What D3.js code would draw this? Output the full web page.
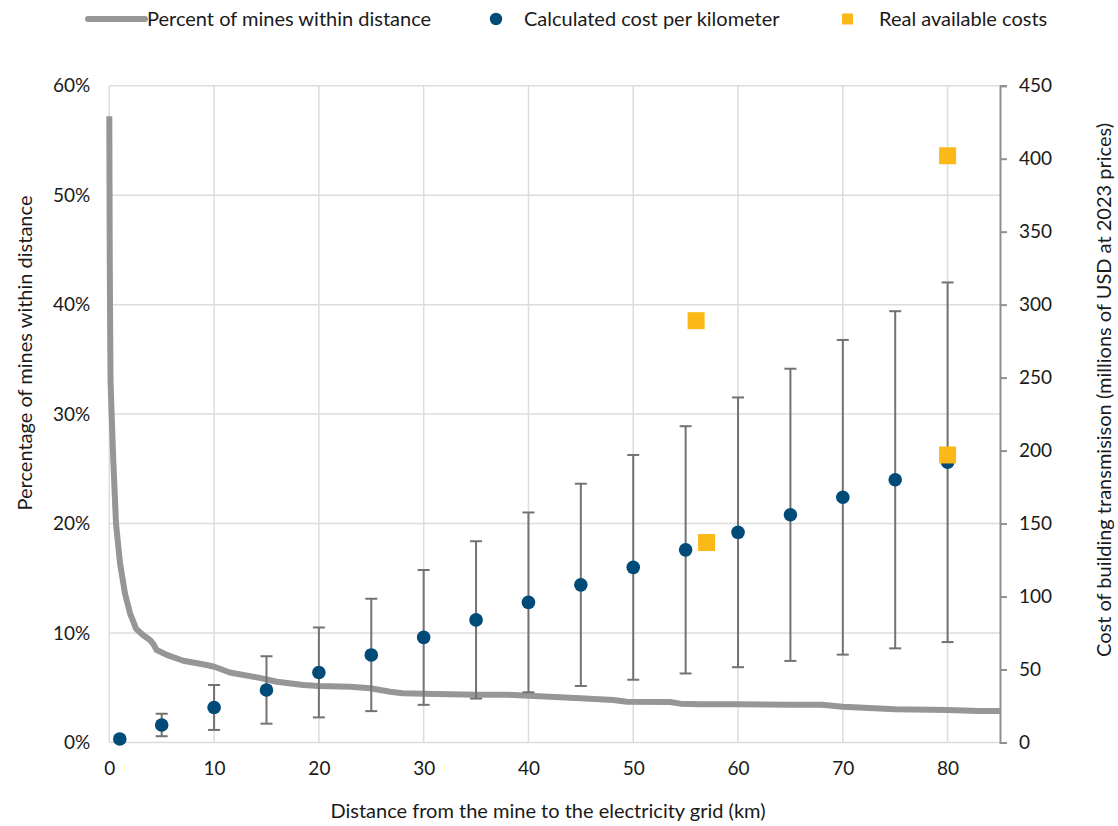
<!DOCTYPE html>
<html>
<head>
<meta charset="utf-8">
<script src="https://cdn.jsdelivr.net/npm/d3@7"></script>
<style>
  body { margin: 0; background: #fff; }
  svg text { font-family: Lato, "Open Sans", sans-serif; fill: #1a1a1a; }
</style>
</head>
<body>
<div id="chart"></div>
<script>
// share of mines within a given distance (left axis, %)
const shareDist = [0, 0.04, 0.08, 0.12, 0.23, 0.38, 0.64, 1.02, 1.5, 1.98, 2.55, 3.24, 3.88, 4.2, 4.52, 5.48, 7.06, 9.3, 10.1, 11.5, 14.1, 16, 18.5, 20, 23, 24.9, 26.8, 28, 30, 35, 38.6, 40, 45, 48.1, 49.4, 53.5, 54.5, 56.4, 60, 65, 68, 70, 75, 80, 83, 85];
const sharePct = [57.2, 45, 38, 33, 29.8, 25.8, 20, 16.4, 13.6, 11.8, 10.4, 9.8, 9.36, 9.0, 8.45, 8.0, 7.47, 7.08, 6.9, 6.4, 5.95, 5.55, 5.25, 5.16, 5.1, 4.95, 4.64, 4.5, 4.45, 4.37, 4.35, 4.28, 4.04, 3.88, 3.73, 3.7, 3.55, 3.5, 3.5, 3.45, 3.45, 3.27, 3.03, 2.97, 2.88, 2.88];

// calculated cost with ranges (right axis, millions USD)
const costDist = [1, 5, 10, 15, 20, 25, 30, 35, 40, 45, 50, 55, 60, 65, 70, 75, 80];
const costMid = [2.4, 12, 24, 36, 48, 60, 72, 84, 96, 108, 120, 132, 144, 156, 168, 180, 192];
const costLow = [0.9, 4.3, 8.6, 12.9, 17.2, 21.5, 25.8, 30.1, 34.4, 38.7, 43, 47.3, 51.6, 55.9, 60.2, 64.5, 68.8];
const costHigh = [3.9, 19.7, 39.4, 59.1, 78.8, 98.5, 118.2, 137.9, 157.6, 177.3, 197, 216.7, 236.4, 256.1, 275.8, 295.5, 315.2];

// real available costs
const realDist = [56, 57, 80, 80];
const realCost = [289, 137, 402, 197];

const xTicks = [0, 10, 20, 30, 40, 50, 60, 70, 80];
const leftTicks = [0, 10, 20, 30, 40, 50, 60];
const rightTicks = [0, 50, 100, 150, 200, 250, 300, 350, 400, 450];

const legendLabels = ["Percent of mines within distance", "Calculated cost per kilometer", "Real available costs"];

const width = 1118, height = 826;
const margin = { top: 85.7, right: 118, bottom: 83.5, left: 109.3 };

const blue = "#004b78", yellow = "#fbb918", lineGrey = "#969696", barGrey = "#727272", grid = "#dcdcdc";

const svg = d3.select("#chart").append("svg")
  .attr("width", width).attr("height", height);

const x = d3.scaleLinear().domain([0, 85]).range([margin.left, width - margin.right]);
const yL = d3.scaleLinear().domain([0, 60]).range([height - margin.bottom, margin.top]);
const yR = d3.scaleLinear().domain([0, 450]).range([height - margin.bottom, margin.top]);

// gridlines
svg.append("g")
  .selectAll("line")
  .data(leftTicks)
  .join("line")
  .attr("x1", x(0)).attr("x2", x(85))
  .attr("y1", (d) => yL(d)).attr("y2", (d) => yL(d))
  .attr("stroke", grid).attr("stroke-width", 1.5);

svg.append("g")
  .selectAll("line")
  .data(xTicks)
  .join("line")
  .attr("x1", (d) => x(d)).attr("x2", (d) => x(d))
  .attr("y1", yL(0)).attr("y2", yL(60))
  .attr("stroke", grid).attr("stroke-width", 1.5);

// left axis labels
svg.append("g")
  .attr("transform", `translate(${margin.left},0)`)
  .call(d3.axisLeft(yL).tickValues(leftTicks).tickFormat((d) => d + "%").tickSize(0).tickPadding(19))
  .call((g) => g.select(".domain").remove())
  .call((g) => g.selectAll("text").attr("font-size", 19).attr("font-family", "Lato").attr("fill", "#1a1a1a"));

// bottom axis labels
svg.append("g")
  .attr("transform", `translate(0,${height - margin.bottom})`)
  .call(d3.axisBottom(x).tickValues(xTicks).tickSize(0).tickPadding(19))
  .call((g) => g.select(".domain").remove())
  .call((g) => g.selectAll("text").attr("font-size", 19).attr("font-family", "Lato").attr("fill", "#1a1a1a"));

// right axis
svg.append("g")
  .attr("transform", `translate(${width - margin.right},0)`)
  .call(d3.axisRight(yR).tickValues(rightTicks).tickSize(7).tickPadding(12))
  .call((g) => g.select(".domain").attr("stroke", "#8f8f8f").attr("stroke-width", 2))
  .call((g) => g.selectAll(".tick line").attr("stroke", "#8f8f8f").attr("stroke-width", 2))
  .call((g) => g.selectAll("text").attr("font-size", 19).attr("font-family", "Lato").attr("fill", "#1a1a1a"));

// share line
const line = d3.line()
  .x((d, i) => x(shareDist[i]))
  .y((d) => yL(d));

svg.append("path")
  .datum(sharePct)
  .attr("fill", "none")
  .attr("stroke", lineGrey)
  .attr("stroke-width", 6)
  .attr("stroke-linejoin", "round")
  .attr("d", line);

// error bars
const bars = svg.append("g").attr("stroke", barGrey).attr("stroke-width", 2);
bars.selectAll("line.v")
  .data(costDist)
  .join("line")
  .attr("x1", (d) => x(d)).attr("x2", (d) => x(d))
  .attr("y1", (d, i) => yR(costLow[i])).attr("y2", (d, i) => yR(costHigh[i]));
bars.selectAll("line.hi")
  .data(costDist)
  .join("line")
  .attr("class", "hi")
  .attr("x1", (d) => x(d) - 6).attr("x2", (d) => x(d) + 6)
  .attr("y1", (d, i) => yR(costHigh[i])).attr("y2", (d, i) => yR(costHigh[i]));
bars.selectAll("line.lo")
  .data(costDist)
  .join("line")
  .attr("class", "lo")
  .attr("x1", (d) => x(d) - 6).attr("x2", (d) => x(d) + 6)
  .attr("y1", (d, i) => yR(costLow[i])).attr("y2", (d, i) => yR(costLow[i]));

// calculated cost points
svg.append("g")
  .selectAll("circle")
  .data(costMid)
  .join("circle")
  .attr("cx", (d, i) => x(costDist[i]))
  .attr("cy", (d) => yR(d))
  .attr("r", 6.8)
  .attr("fill", blue);

// real costs
svg.append("g")
  .selectAll("rect")
  .data(realCost)
  .join("rect")
  .attr("x", (d, i) => x(realDist[i]) - 8.5)
  .attr("y", (d) => yR(d) - 8.5)
  .attr("width", 17).attr("height", 17)
  .attr("fill", yellow);

// axis titles
svg.append("text")
  .attr("transform", `translate(32,353) rotate(-90)`)
  .attr("text-anchor", "middle")
  .attr("font-size", 20)
  .text("Percentage of mines within distance");

svg.append("text")
  .attr("transform", `translate(1111,390) rotate(-90)`)
  .attr("text-anchor", "middle")
  .attr("font-size", 20)
  .text("Cost of building transmisison (millions of USD at 2023 prices)");

svg.append("text")
  .attr("x", 548).attr("y", 818)
  .attr("text-anchor", "middle")
  .attr("font-size", 20)
  .text("Distance from the mine to the electricity grid (km)");

// legend
const legend = svg.append("g");
legend.append("line")
  .attr("x1", 88).attr("x2", 145).attr("y1", 19).attr("y2", 19)
  .attr("stroke", lineGrey).attr("stroke-width", 6).attr("stroke-linecap", "round");
legend.append("circle").attr("cx", 496).attr("cy", 19).attr("r", 6.2).attr("fill", blue);
legend.append("rect").attr("x", 842).attr("y", 13.5).attr("width", 11).attr("height", 11).attr("fill", yellow);
legend.selectAll("text")
  .data(legendLabels)
  .join("text")
  .attr("x", (d, i) => [147, 524, 879][i])
  .attr("y", 26)
  .attr("font-size", 20)
  .text((d) => d);
</script>
</body>
</html>
